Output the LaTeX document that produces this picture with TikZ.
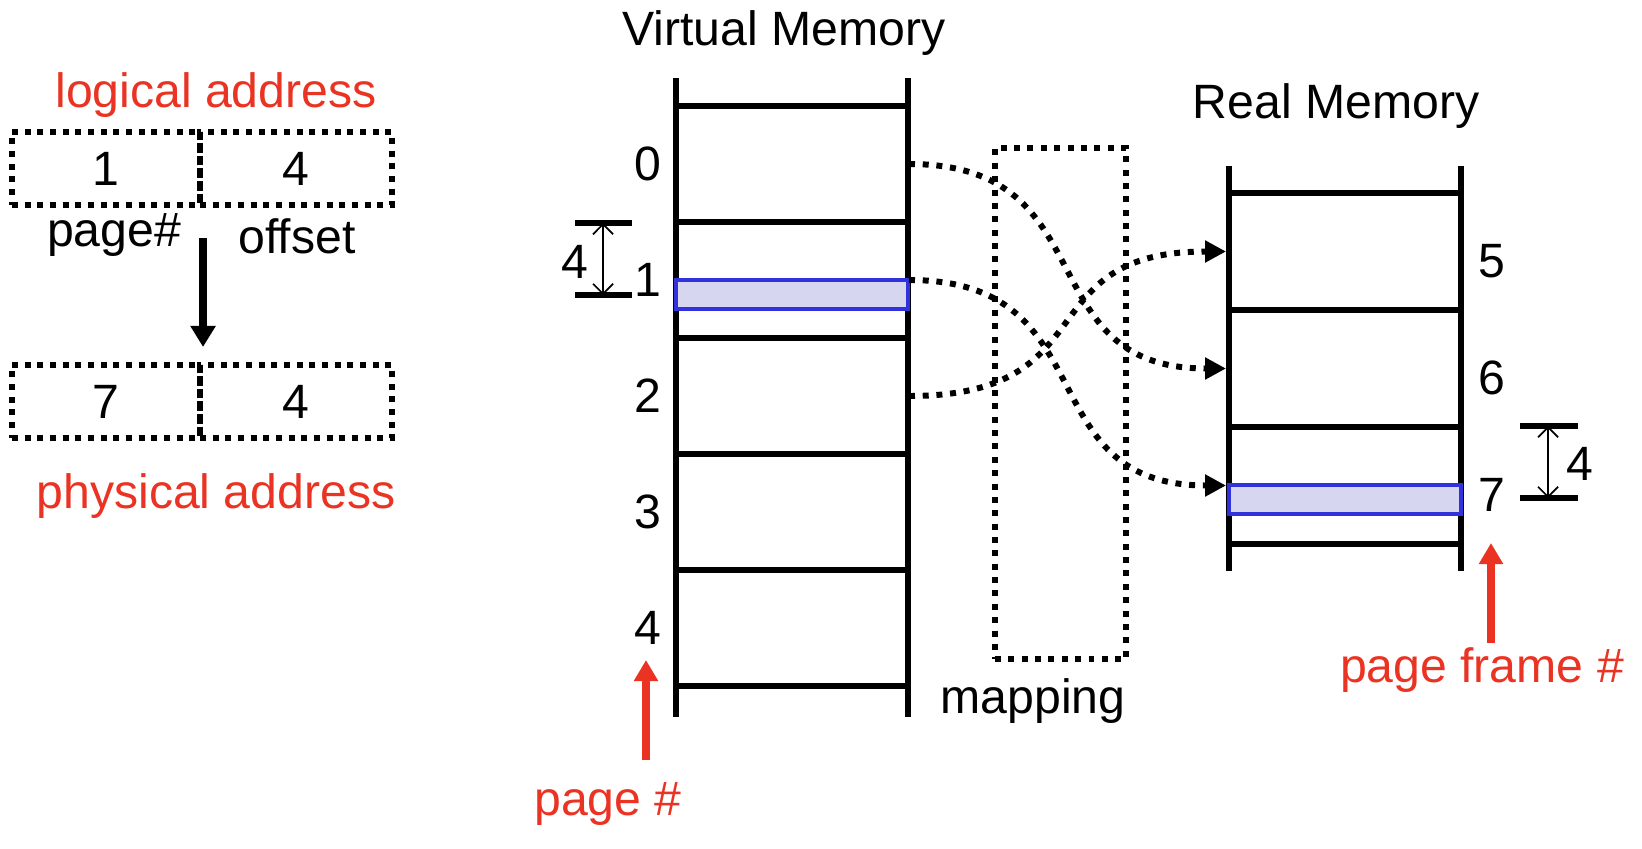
\documentclass[tikz,border=0pt]{standalone}
\usepackage{fontspec}
\setmainfont{Liberation Sans}
\usetikzlibrary{arrows.meta}

\definecolor{labelred}{RGB}{234,51,35}
\definecolor{hiliteblue}{RGB}{50,50,220}
\definecolor{hilitefill}{RGB}{214,214,240}

\tikzset{
  memline/.style={line width=1.8pt},
  addrbox/.style={draw, line width=1.7pt, dash pattern=on 1.7pt off 1.9pt, minimum height=0.73cm, inner sep=0pt},
  mapframe/.style={draw, line width=1.7pt, dash pattern=on 1.7pt off 2.1pt, minimum width=1.31cm, minimum height=5.11cm, inner sep=0pt},
  maplink/.style={line width=1.7pt, dash pattern=on 1.7pt off 2.2pt, -{Triangle[length=0.21cm,width=0.21cm]}},
  redarrow/.style={labelred, line width=2.1pt, -{Triangle[length=0.21cm,width=0.23cm]}},
  dimarrow/.style={line width=0.5pt, {Straight Barb[length=0.1cm,width=0.2cm]}-{Straight Barb[length=0.1cm,width=0.2cm]}},
  dimtick/.style={line width=1.6pt},
  hilite/.style={draw=hiliteblue, fill=hilitefill, line width=1pt},
  redlbl/.style={text=labelred, anchor=base}
}

\begin{document}
\begin{tikzpicture}[x=0.01cm, y=-0.01cm, font=\fontsize{13.7}{16}\selectfont]
    \useasboundingbox (0,0) rectangle (1642,848);

    % Logical address split into page number and offset
    \node[redlbl] (logtitle) at (216,107) {logical address};
    \node[addrbox, minimum width=1.88cm] (lpage) at (106,168.5) {1};
    \node[addrbox, minimum width=1.92cm] (loff) at (296,168.5) {4};
    \node[anchor=base] (pglbl) at (114,246) {page\#};
    \node[anchor=base] (offlbl) at (297,253) {offset};

    % Physical address after translation
    \node[addrbox, minimum width=1.88cm] (ppage) at (106,401.5) {7};
    \node[addrbox, minimum width=1.92cm] (poff) at (296,401.5) {4};
    \node[redlbl] (phystitle) at (216,508) {physical address};

    % Translation arrow
    \draw[line width=2.1pt, -{Triangle[length=0.21cm,width=0.24cm]}] ([yshift=-0.3cm]lpage.south east) -- ([yshift=0.15cm]ppage.north east);

    % Virtual memory ladder
    \node[anchor=base] (vmtitle) at (784,45) {Virtual Memory};
    \draw[memline] (676,78) -- (676,717);
    \draw[memline] (908,78) -- (908,717);
    \foreach \k in {0,...,5}
        \draw[memline] (676,{106+116*\k}) -- (908,{106+116*\k});
    \foreach \k in {0,...,4}
        \node (vp\k) at (648,{164+116*\k}) {\k};
    \foreach \k in {0,1,2}
        \coordinate (v\k) at (909,{164+116*\k});
    \draw[hilite] (676,280) rectangle (908,309);

    % Real memory ladder
    \node[anchor=base] (rmtitle) at (1336,118) {Real Memory};
    \draw[memline] (1229,166) -- (1229,571);
    \draw[memline] (1461,166) -- (1461,571);
    \foreach \k in {0,...,3}
        \draw[memline] (1229,{193+117*\k}) -- (1461,{193+117*\k});
    \foreach \k/\n in {0/5,1/6,2/7}
        \node (rp\n) at (1492,{261+117*\k}) {\n};
    \foreach \k/\n in {0/5,1/6,2/7}
        \coordinate (r\n) at (1226,{251.5+117*\k});
    \draw[hilite] (1229,485) rectangle (1461,514);

    % Mapping table
    \node[mapframe] (mapper) at (1060.5,403.5) {};
    \node[anchor=base] (maplbl) at (1033,713) {mapping};

    % Page to frame links
    \draw[maplink] (v0) .. controls +(200,0) and +(-200,0) .. (r6);
    \draw[maplink] (v1) .. controls +(200,0) and +(-200,0) .. (r7);
    \draw[maplink] (v2) .. controls +(200,0) and +(-200,0) .. (r5);

    % Offset size on both sides
    \draw[dimtick] (575,223) -- (632,223);
    \draw[dimtick] (575,295) -- (632,295);
    \coordinate (vdtop) at (603,223);
    \coordinate (vdbot) at (603,295);
    \draw[dimarrow] (vdtop) -- (vdbot);
    \node (vdim) at (575,262) {4};
    \draw[dimtick] (1520,426) -- (1578,426);
    \draw[dimtick] (1520,498) -- (1578,498);
    \coordinate (rdtop) at (1548,426);
    \coordinate (rdbot) at (1548,498);
    \draw[dimarrow] (rdtop) -- (rdbot);
    \node (rdim) at (1580,464) {4};

    % Red pointers to the numbers
    \node[redlbl] (pgnum) at (608,815) {page \#};
    \coordinate (pgtail) at (646,760);
    \coordinate (pgtip) at (646,660);
    \draw[redarrow] (pgtail) -- (pgtip);
    \node[redlbl] (framenum) at (1482,682) {page frame \#};
    \coordinate (frtail) at (1491,643);
    \coordinate (frtip) at (1491,543);
    \draw[redarrow] (frtail) -- (frtip);
\end{tikzpicture}
\end{document}
